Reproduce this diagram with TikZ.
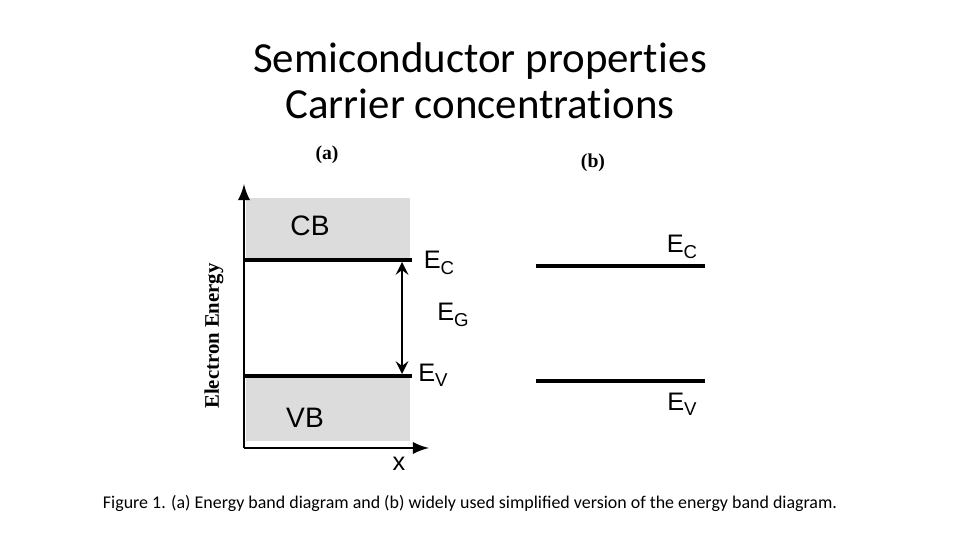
\documentclass[tikz,border=0pt]{standalone}
\usepackage{fontspec}
\setmainfont{Carlito}
\newfontfamily\titlefont[Ligatures=NoCommon]{Carlito}
\newfontfamily\arialfont{Liberation Sans}
\newfontfamily\timesfont{Liberation Serif}
\usepackage{tikz}
\usepackage{xcolor}
\definecolor{bandgray}{HTML}{DCDCDC}
\tikzset{
  band/.style={fill=bandgray,draw=none},
  level/.style={line width=1.2pt},
  lbl/.style={font=\arialfont\fontsize{7.2}{8}\selectfont,inner sep=0pt},
  tag/.style={font=\timesfont\bfseries\fontsize{5.6}{6}\selectfont,inner sep=0pt}
}
\newcommand{\Esub}[1]{E\raisebox{-0.4ex}{\fontsize{5.3}{6}\selectfont #1}}
\begin{document}
\begin{tikzpicture}[x=0.01cm,y=-0.01cm]
\useasboundingbox (0,0) rectangle (960,540);
% title
\node[align=center,font=\titlefont\fontsize{12.2}{13.1}\selectfont] (title) at (480,81) {Semiconductor propert\kern0.15pt ies\\Carrier concentrat\kern0.15pt ions};
% (a) band diagram
\node[tag] (taga) at (327,155) {(a)};
\fill[band] (246,198) rectangle (410,260);
\fill[band] (246,376) rectangle (410,441);
\coordinate (origin) at (244,448);
\coordinate (ytop) at (244,184);
\coordinate (xend) at (429,448);
\draw[line width=0.6pt,-latex] (origin)--(ytop);
\draw[line width=0.6pt,-latex] (origin)--(xend);
\coordinate (ecl) at (244,260);\coordinate (ecr) at (412,260);
\coordinate (evl) at (244,376);\coordinate (evr) at (412,376);
\draw[level] (ecl)--(ecr);
\draw[level] (evl)--(evr);
\coordinate (gtop) at (402,262);\coordinate (gbot) at (402,374);
\draw[line width=0.6pt,<->,>=stealth] (gtop)--(gbot);
\node[lbl,font=\arialfont\fontsize{8}{9}\selectfont] (cb) at (310,226) {CB};
\node[lbl,font=\arialfont\fontsize{8}{9}\selectfont] (vb) at (305,418) {VB};
\node[lbl] (ec) at (439,263) {\Esub{C}};
\node[lbl] (eg) at (453,315) {\Esub{G}};
\node[lbl] (ev) at (433,375) {\Esub{V}};
\node[lbl] (xlab) at (399,464) {x};
\node[font=\timesfont\bfseries\fontsize{5.9}{6}\selectfont,rotate=90,inner sep=0pt] (yl) at (214,336) {Electron Energy};
% (b) simplified
\node[tag] (tagb) at (593,163) {(b)};
\coordinate (bcl) at (536,266);\coordinate (bcr) at (705,266);
\coordinate (bvl) at (536,381);\coordinate (bvr) at (705,381);
\draw[level] (bcl)--(bcr);
\draw[level] (bvl)--(bvr);
\node[lbl] (bec) at (682,247) {\Esub{C}};
\node[lbl] (bev) at (682,404) {\Esub{V}};
% caption
\node[font=\fontsize{5.1}{6}\selectfont,inner sep=0pt] (cap) at (470,503) {Figure 1. (a) Energy band diagram and (b) widely used simplified version of the energy band diagram.};
\end{tikzpicture}
\end{document}
